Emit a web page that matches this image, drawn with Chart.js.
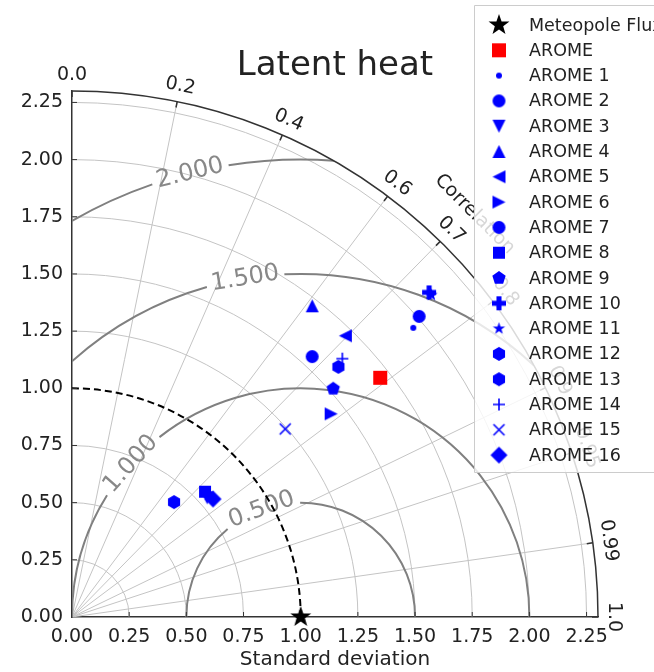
<!DOCTYPE html>
<html>
<head>
<meta charset="utf-8">
<title>Latent heat - Taylor diagram</title>
<script src="https://cdn.jsdelivr.net/npm/chart.js@4/dist/chart.umd.min.js"></script>
<style>
  html, body { margin: 0; padding: 0; background: #fff; }
  #wrap { width: 654px; height: 672px; position: relative; }
</style>
</head>
<body>
<div id="wrap"><canvas id="taylor" width="654" height="672"></canvas></div>
<script>
'use strict';

/* ─── Données ────────────────────────────────────────────── */
var seriesNames = ['Meteopole Flux', 'AROME', 'AROME 1', 'AROME 2', 'AROME 3', 'AROME 4',
  'AROME 5', 'AROME 6', 'AROME 7', 'AROME 8', 'AROME 9', 'AROME 10', 'AROME 11',
  'AROME 12', 'AROME 13', 'AROME 14', 'AROME 15', 'AROME 16'];
var stdDev      = [1.000, 1.706, 1.956, 2.008, 0.788, 1.719, 1.715, 1.440, 1.549,
                   0.799, 1.517, 2.110, 2.110, 1.598, 0.672, 1.635, 1.243, 0.804];
var correlation = [1.000, 0.790, 0.763, 0.756, 0.750, 0.611, 0.697, 0.787, 0.678,
                   0.728, 0.753, 0.740, 0.745, 0.729, 0.664, 0.723, 0.750, 0.767];

var stdTicks        = [0, 0.25, 0.5, 0.75, 1.0, 1.25, 1.5, 1.75, 2.0, 2.25];
var corrTicks       = [0.0, 0.2, 0.4, 0.6, 0.7, 0.8, 0.9, 0.95, 0.99, 1.0];
var corrTickLabels  = ['0.0', '0.2', '0.4', '0.6', '0.7', '0.8', '0.9', '0.95', '0.99', '1.0'];
var rmsLevels       = [0.5, 1.0, 1.5, 2.0];
var rmsLabels       = ['0.500', '1.000', '1.500', '2.000'];
var rmsLabelAngles  = [110, 138, 99.3, 104];   /* degrés autour de la référence */
var refStd = 1.0;
var maxStd = 2.3;

/* ─── Marqueurs ──────────────────────────────────────────── */
var BLUE = '#0000ff';
var markerDefs = [
  ['star', 22, '#000000'], ['square', 14, '#ff0000'], ['circle', 6, BLUE],
  ['circle', 13, BLUE], ['triDown', 13, BLUE], ['triUp', 13, BLUE],
  ['triLeft', 13, BLUE], ['triRight', 13, BLUE], ['circle', 13, BLUE],
  ['square', 12, BLUE], ['pentagon', 14, BLUE], ['plusFilled', 14, BLUE],
  ['star', 13, BLUE], ['hexagon', 14, BLUE], ['hexagon', 14, BLUE],
  ['plus', 12, BLUE], ['x', 11, BLUE], ['diamond', 17, BLUE]
];

function polyPath(g, r, n) {
  for (var i = 0; i < n; i++) {
    var a = i * 2 * Math.PI / n;
    var X = r * Math.sin(a), Y = -r * Math.cos(a);
    if (i === 0) { g.moveTo(X, Y); } else { g.lineTo(X, Y); }
  }
  g.closePath();
}

function makeMarker(shape, size, color) {
  var c = document.createElement('canvas');
  c.width = c.height = Math.ceil(size + 4);
  var g = c.getContext('2d');
  var r = size / 2;
  g.translate(c.width / 2, c.height / 2);
  g.fillStyle = color;
  g.strokeStyle = color;
  g.lineWidth = 1.6;
  g.beginPath();
  if (shape === 'circle') {
    g.arc(0, 0, r, 0, Math.PI * 2);
  } else if (shape === 'square') {
    g.rect(-r, -r, size, size);
  } else if (shape === 'diamond') {
    g.moveTo(0, -r); g.lineTo(r, 0); g.lineTo(0, r); g.lineTo(-r, 0); g.closePath();
  } else if (shape.indexOf('tri') === 0) {
    var rot = { triUp: 0, triRight: 90, triDown: 180, triLeft: 270 }[shape];
    g.rotate(rot * Math.PI / 180);
    g.moveTo(0, -r); g.lineTo(r, r); g.lineTo(-r, r); g.closePath();
  } else if (shape === 'pentagon') {
    polyPath(g, r, 5);
  } else if (shape === 'hexagon') {
    polyPath(g, r, 6);
  } else if (shape === 'star') {
    for (var i = 0; i < 10; i++) {
      var a = i * Math.PI / 5, rr = (i % 2) ? r * 0.4 : r;
      var X = rr * Math.sin(a), Y = -rr * Math.cos(a);
      if (i === 0) { g.moveTo(X, Y); } else { g.lineTo(X, Y); }
    }
    g.closePath();
  } else if (shape === 'plusFilled') {
    var t = r * 0.36;
    g.moveTo(-t, -r); g.lineTo(t, -r); g.lineTo(t, -t); g.lineTo(r, -t); g.lineTo(r, t);
    g.lineTo(t, t); g.lineTo(t, r); g.lineTo(-t, r); g.lineTo(-t, t); g.lineTo(-r, t);
    g.lineTo(-r, -t); g.lineTo(-t, -t); g.closePath();
  } else if (shape === 'plus') {
    g.moveTo(-r, 0); g.lineTo(r, 0); g.moveTo(0, -r); g.lineTo(0, r);
    g.stroke();
    return c;
  } else if (shape === 'x') {
    g.moveTo(-r, -r); g.lineTo(r, r); g.moveTo(r, -r); g.lineTo(-r, r);
    g.stroke();
    return c;
  }
  g.fill();
  return c;
}

var markers = markerDefs.map(function(d) { return makeMarker(d[0], d[1], d[2]); });

/* ─── Grille du diagramme de Taylor ──────────────────────── */
var taylorGrid = {
  id: 'taylorGrid',
  beforeDatasetsDraw: function(chart) {
    var ctx = chart.ctx;
    var xs = chart.scales.x, ys = chart.scales.y;
    var ox = xs.getPixelForValue(0), oy = ys.getPixelForValue(0);
    var k = xs.getPixelForValue(1) - ox;
    var i, th;

    ctx.save();
    /* clip au quart de disque */
    ctx.beginPath();
    ctx.moveTo(ox, oy);
    ctx.arc(ox, oy, maxStd * k, -Math.PI / 2, 0);
    ctx.closePath();
    ctx.clip();

    /* arcs d'écart-type */
    ctx.strokeStyle = '#c4c4c4';
    ctx.lineWidth = 1;
    for (i = 1; i < stdTicks.length; i++) {
      if (stdTicks[i] === refStd) { continue; }
      ctx.beginPath();
      ctx.arc(ox, oy, stdTicks[i] * k, -Math.PI / 2, 0);
      ctx.stroke();
    }
    /* rayons de corrélation */
    for (i = 1; i < corrTicks.length - 1; i++) {
      th = Math.acos(corrTicks[i]);
      ctx.beginPath();
      ctx.moveTo(ox, oy);
      ctx.lineTo(ox + maxStd * k * Math.cos(th), oy - maxStd * k * Math.sin(th));
      ctx.stroke();
    }

    /* contours RMS centrés sur la référence */
    var cx = xs.getPixelForValue(refStd);
    ctx.font = '24px "DejaVu Sans"';
    for (i = 0; i < rmsLevels.length; i++) {
      var R = rmsLevels[i];
      var cmin = (maxStd * maxStd - refStd * refStd - R * R) / (2 * R * refStd);
      var phiMin = Math.acos(Math.max(-1, Math.min(1, cmin)));
      var phiMax = Math.acos(Math.max(-1, -refStd / R));
      var phiL = rmsLabelAngles[i] * Math.PI / 180;
      var half = (ctx.measureText(rmsLabels[i]).width / 2 + 5) / (R * k);
      ctx.strokeStyle = '#808080';
      ctx.lineWidth = 2;
      ctx.beginPath();
      ctx.arc(cx, oy, R * k, -phiMax, -(phiL + half));
      ctx.stroke();
      ctx.beginPath();
      ctx.arc(cx, oy, R * k, -(phiL - half), -phiMin);
      ctx.stroke();
      /* étiquette en ligne */
      ctx.save();
      ctx.translate(cx + R * k * Math.cos(phiL), oy - R * k * Math.sin(phiL));
      ctx.rotate(-(phiL - Math.PI / 2));
      ctx.fillStyle = '#888888';
      ctx.textAlign = 'center';
      ctx.textBaseline = 'middle';
      ctx.fillText(rmsLabels[i], 0, 0);
      ctx.restore();
    }

    /* arc de référence en tirets */
    ctx.strokeStyle = '#000';
    ctx.lineWidth = 2;
    ctx.setLineDash([7, 4]);
    ctx.beginPath();
    ctx.arc(ox, oy, refStd * k, -Math.PI / 2, 0);
    ctx.stroke();
    ctx.setLineDash([]);
    ctx.restore();

    /* arc extérieur + graduations de corrélation */
    ctx.save();
    ctx.strokeStyle = '#333';
    ctx.lineWidth = 1.5;
    ctx.beginPath();
    ctx.arc(ox, oy, maxStd * k, -Math.PI / 2, 0);
    ctx.stroke();
    ctx.fillStyle = '#222';
    ctx.font = '19px "DejaVu Sans"';
    ctx.textAlign = 'center';
    ctx.textBaseline = 'middle';
    var rl = maxStd * k + 16;
    for (i = 0; i < corrTicks.length; i++) {
      th = Math.acos(corrTicks[i]);
      var cs = Math.cos(th), sn = Math.sin(th);
      ctx.beginPath();
      ctx.moveTo(ox + maxStd * k * cs, oy - maxStd * k * sn);
      ctx.lineTo(ox + (maxStd * k - 6) * cs, oy - (maxStd * k - 6) * sn);
      ctx.stroke();
      ctx.save();
      ctx.translate(ox + rl * cs, oy - rl * sn);
      ctx.rotate(Math.PI / 2 - th);
      ctx.fillText(corrTickLabels[i], 0, 0);
      ctx.restore();
    }
    /* titre de l'axe de corrélation */
    var ta = 45 * Math.PI / 180, tr = 2.49 * k;
    ctx.save();
    ctx.translate(ox + tr * Math.cos(ta), oy - tr * Math.sin(ta));
    ctx.rotate(Math.PI / 2 - ta);
    ctx.fillText('Correlation', 0, 0);
    ctx.restore();

    /* graduations intérieures des axes */
    ctx.lineWidth = 1;
    for (i = 1; i < stdTicks.length; i++) {
      var p = stdTicks[i] * k;
      ctx.beginPath();
      ctx.moveTo(ox + p, oy); ctx.lineTo(ox + p, oy - 5);
      ctx.moveTo(ox, oy - p); ctx.lineTo(ox + 5, oy - p);
      ctx.stroke();
    }
    ctx.restore();
  },

  afterDraw: function(chart) {
    var ctx = chart.ctx;
    ctx.save();
    /* titre */
    ctx.fillStyle = '#222';
    ctx.font = '34px "DejaVu Sans"';
    ctx.textAlign = 'center';
    ctx.textBaseline = 'alphabetic';
    ctx.fillText('Latent heat', (chart.chartArea.left + chart.chartArea.right) / 2, 75);

    /* légende */
    ctx.fillStyle = 'rgba(255,255,255,0.82)';
    ctx.strokeStyle = '#cccccc';
    ctx.lineWidth = 1;
    ctx.beginPath();
    ctx.rect(474.5, 5.5, 200, 467);
    ctx.fill();
    ctx.stroke();
    ctx.font = '17.5px "DejaVu Sans"';
    ctx.textAlign = 'left';
    ctx.textBaseline = 'middle';
    ctx.fillStyle = '#222';
    for (var i = 0; i < seriesNames.length; i++) {
      var y = 25 + i * 25.3;
      var m = markers[i];
      ctx.drawImage(m, 499 - m.width / 2, y - m.height / 2);
      ctx.fillText(seriesNames[i], 529, y + 1);
    }
    ctx.restore();
  }
};

var bgPlugin = {
  id: 'bg',
  beforeDraw: function(chart) {
    var ctx = chart.ctx;
    ctx.save();
    ctx.fillStyle = '#fff';
    ctx.fillRect(0, 0, chart.width, chart.height);
    ctx.restore();
  }
};

/* ─── Jeux de données ────────────────────────────────────── */
var datasets = [];
for (var i = 0; i < seriesNames.length; i++) {
  var th = Math.acos(correlation[i]);
  datasets.push({
    label: seriesNames[i],
    data: [{ x: stdDev[i] * correlation[i], y: stdDev[i] * Math.sin(th) }],
    pointStyle: markers[i],
    pointRadius: 6,
    clip: false,
    order: -i
  });
}

function fixedTicks(scale) {
  scale.ticks = stdTicks.map(function(v) { return { value: v }; });
}

Chart.defaults.font.family = '"DejaVu Sans", sans-serif';

new Chart(document.getElementById('taylor'), {
  type: 'scatter',
  data: { datasets: datasets },
  options: {
    responsive: false,
    animation: false,
    events: [],
    devicePixelRatio: 1,
    layout: { padding: { top: 91, right: 56, left: 0, bottom: 0 } },
    plugins: { legend: { display: false }, tooltip: { enabled: false } },
    scales: {
      x: {
        type: 'linear', min: 0, max: maxStd,
        afterBuildTicks: fixedTicks,
        afterFit: function(s) { s.height = 55; },
        grid: { display: false, drawTicks: false },
        border: { display: true, color: '#333', width: 1.5 },
        ticks: {
          padding: 9, color: '#222', font: { size: 19 }, maxRotation: 0, autoSkip: false,
          callback: function(v) { return Number(v).toFixed(2); }
        },
        title: { display: true, text: 'Standard deviation', color: '#222',
                 font: { size: 20 }, padding: { top: 0, bottom: 0 } }
      },
      y: {
        type: 'linear', min: 0, max: maxStd,
        afterBuildTicks: fixedTicks,
        afterFit: function(s) { s.width = 72; },
        grid: { display: false, drawTicks: false },
        border: { display: true, color: '#333', width: 1.5 },
        ticks: {
          padding: 9, color: '#222', font: { size: 19 }, autoSkip: false,
          callback: function(v) { return Number(v).toFixed(2); }
        }
      }
    }
  },
  plugins: [bgPlugin, taylorGrid]
});
</script>
</body>
</html>
